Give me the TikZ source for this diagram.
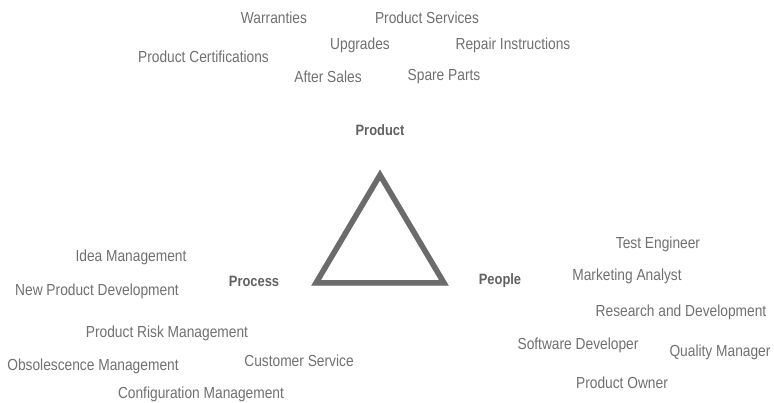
\documentclass[tikz,border=0pt]{standalone}
\usepackage{fontspec}
\setmainfont{Liberation Sans}[FakeStretch=0.86]
\begin{document}
\begin{tikzpicture}[x=1pt,y=-1pt,
  lbl/.style={text=black!56, font=\fontsize{16}{18}\selectfont, inner sep=0pt, anchor=center},
  hdr/.style={text=black!62, font=\fontsize{15}{17}\selectfont\bfseries, inner sep=0pt, anchor=center},
  tri/.style={draw=black!58, line width=5.5pt, miter limit=10},
  trishadow/.style={draw=black!15, line width=5.5pt, miter limit=10}]
\useasboundingbox (0,0) rectangle (774,403);
% triangle
\coordinate (apex) at (380,175);
\coordinate (bl) at (316,283);
\coordinate (br) at (444,283);
\draw[trishadow, shift={(2,2)}] (apex) -- (bl) -- (br) -- cycle;
\draw[tri] (apex) -- (bl) -- (br) -- cycle;
% headers
\node[hdr] (product) at (380,130) {Product};
\node[hdr] (process) at (254,281) {Process};
\node[hdr] (people) at (500,281) {People};
% product items
\node[lbl] (warr) at (274,18) {Warranties};
\node[lbl] (psvc) at (427,18) {Product Services};
\node[lbl] (pcert) at (203.5,57) {Product Certifications};
\node[lbl] (upg) at (360,45) {Upgrades};
\node[lbl] (repair) at (513,45) {Repair Instructions};
\node[lbl] (after) at (328,77) {After Sales};
\node[lbl] (spare) at (444,77) {Spare Parts};
% process items
\node[lbl] (idea) at (131,257) {Idea Management};
\node[lbl] (npd) at (97,291) {New Product Development};
\node[lbl] (risk) at (167,333) {Product Risk Management};
\node[lbl] (obs) at (93,366) {Obsolescence Management};
\node[lbl] (cust) at (299,361) {Customer Service};
\node[lbl] (config) at (201,394) {Configuration Management};
% people items
\node[lbl] (test) at (658,244) {Test Engineer};
\node[lbl] (mkt) at (627,276) {Marketing Analyst};
\node[lbl] (rnd) at (681,312) {Research and Development};
\node[lbl] (soft) at (578,345) {Software Developer};
\node[lbl] (qual) at (720,352) {Quality Manager};
\node[lbl] (owner) at (622,383) {Product Owner};
\end{tikzpicture}
\end{document}
